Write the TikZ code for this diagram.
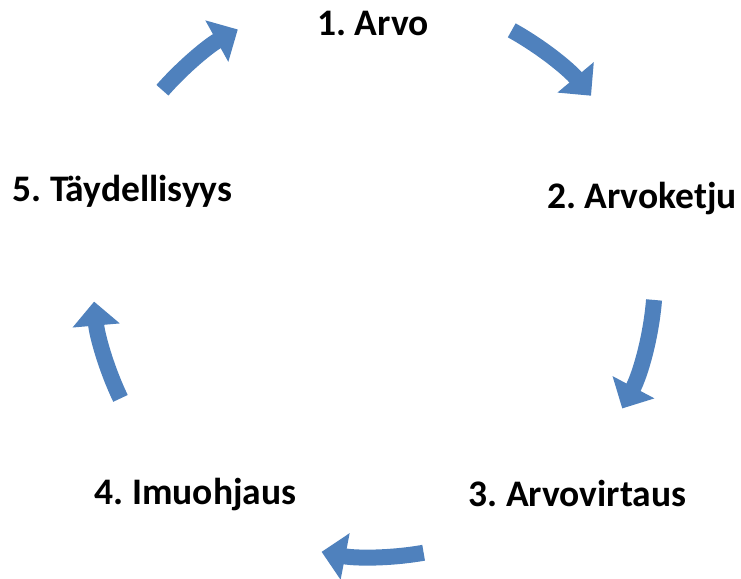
\documentclass[tikz,border=0pt]{standalone}
\usepackage{fontspec}
\setmainfont{Carlito}
\usetikzlibrary{arrows.meta}
\definecolor{cycleblue}{HTML}{4F81BD}
\frenchspacing
\begin{document}
\begin{tikzpicture}[x=1pt,y=1pt,
  steplabel/.style={font=\fontsize{37.5}{42}\selectfont\bfseries,inner sep=0pt,text height=24pt,text depth=0pt},
  cyclearrow/.style={draw=cycleblue,line width=16pt,-{Triangle[width=46pt,length=24pt]}}]
\useasboundingbox (0,0) rectangle (741,578);
\coordinate (c) at (375,301);

\node[steplabel] (arvo) at (373,554) {1. Arvo};
\node[steplabel] (ketju) at (642,381.5) {2. Arvoketju};
\node[steplabel] (virtaus) at (577.5,83) {3. Arvovirtaus};
\node[steplabel] (imu) at (195.5,85.5) {4. Imuohjaus};
\node[steplabel] (taydel) at (122.5,388) {5. Täydellisyys};

\draw[cyclearrow] ([shift={(61:282)}]c) arc[start angle=61,end angle=40,radius=282];
\draw[cyclearrow] ([shift={(-4.7:280)}]c) arc[start angle=-4.7,end angle=-28,radius=280];
\draw[cyclearrow] ([shift={(-80:280)}]c) arc[start angle=-80,end angle=-101,radius=280];
\draw[cyclearrow] ([shift={(205.5:282)}]c) arc[start angle=205.5,end angle=185,radius=282];
\draw[cyclearrow] ([shift={(138.7:283)}]c) arc[start angle=138.7,end angle=119,radius=283];
\end{tikzpicture}
\end{document}
